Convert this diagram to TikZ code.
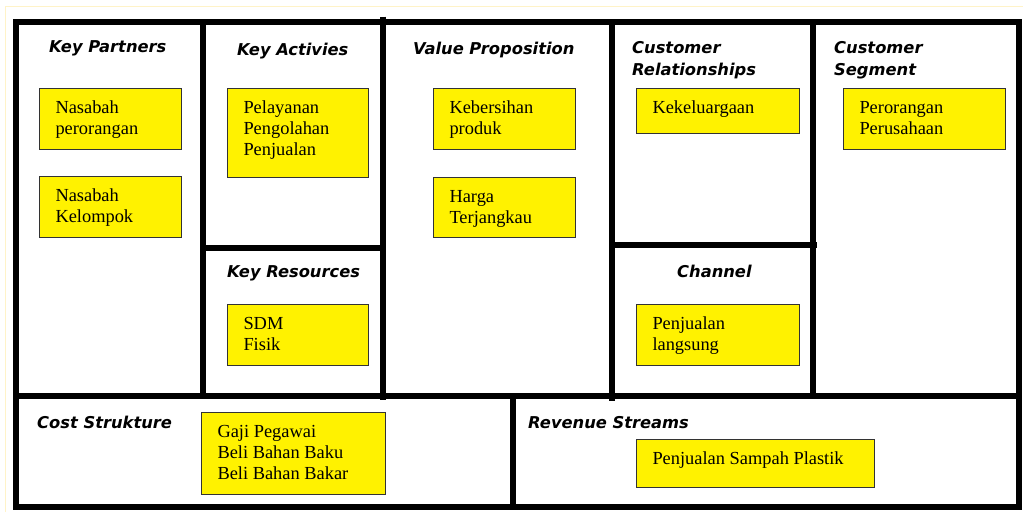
\documentclass[tikz,border=0pt]{standalone}
\usepackage{fontspec}
\setmainfont{Liberation Serif}
\newfontfamily\headfam{DejaVu Sans}
\definecolor{pageline}{HTML}{FFF3C8}
\definecolor{boxline}{HTML}{333333}
\newcommand\boxtext[3]{\parbox[c][#2pt][t]{#1pt}{\raggedright\leftskip=16pt\relax\rule{0pt}{25pt}#3}}
\tikzset{
  frameline/.style={line width=6pt, black, line cap=rect},
  ybox/.style={draw=boxline, fill=yellow, line width=1pt, inner sep=0pt, anchor=north west,
    font=\fontsize{18.4}{21}\selectfont},
  head/.style={inner sep=0pt, anchor=north west, align=left,
    font=\headfam\bfseries\itshape\fontsize{16.3}{22}\selectfont}
}
\begin{document}
\begin{tikzpicture}[x=1pt,y=-1pt]
\useasboundingbox (0,0) rectangle (1023,512);
% faint page edge
\draw[pageline, line width=1pt] (5,512) -- (5,6) -- (1023,6);
% canvas frame
\draw[frameline] (16,21.5) rectangle (1018.5,506.5);
\draw[frameline] (202.5,21.5) -- (202.5,395.5);
\draw[frameline, line cap=butt] (383,16.5) -- (383,400);
\draw[frameline, line cap=butt] (611.5,21.5) -- (611.5,401);
\draw[frameline] (812.5,21.5) -- (812.5,395.5);
\draw[frameline] (202.5,248) -- (383,248);
\draw[frameline, line cap=butt] (611.5,244.5) -- (817,244.5);
\draw[frameline] (16,395.5) -- (1018.5,395.5);
\draw[frameline] (512.5,395.5) -- (512.5,506.5);
% headers
\node[head] (hkp) at (49,39) {\rule{0pt}{13pt}Key Partners};
\node[head] (hka) at (237,42) {\rule{0pt}{13pt}Key Activies};
\node[head] (hvp) at (413,41) {\rule{0pt}{13pt}Value Proposition};
\node[head] (hcr) at (632,40) {\rule{0pt}{13pt}Customer\\Relationships};
\node[head] (hcs) at (834,40) {\rule{0pt}{13pt}Customer\\Segment};
\node[head] (hkr) at (227,264) {\rule{0pt}{13pt}Key Resources};
\node[head] (hch) at (677,264) {\rule{0pt}{13pt}Channel};
\node[head] (hcost) at (37,415) {\rule{0pt}{13pt}Cost Strukture};
\node[head] (hrev) at (528,415) {\rule{0pt}{13pt}Revenue Streams};
% yellow boxes
\node[ybox] (b1) at (39,88) {\boxtext{142}{61}{Nasabah\\perorangan}};
\node[ybox] (b2) at (39,176) {\boxtext{142}{61}{Nasabah\\Kelompok}};
\node[ybox] (b3) at (227,88) {\boxtext{141}{89}{Pelayanan\\Pengolahan\\Penjualan}};
\node[ybox] (b4) at (227,304) {\boxtext{141}{61}{SDM\\Fisik}};
\node[ybox] (b5) at (433,88) {\boxtext{142}{61}{Kebersihan\\produk}};
\node[ybox] (b6) at (433,177) {\boxtext{142}{60}{Harga\\Terjangkau}};
\node[ybox] (b7) at (636,88) {\boxtext{163}{45}{Kekeluargaan}};
\node[ybox] (b8) at (636,304) {\boxtext{163}{61}{Penjualan\\langsung}};
\node[ybox] (b9) at (843,88) {\boxtext{162}{61}{Perorangan\\Perusahaan}};
\node[ybox] (b10) at (201,412) {\boxtext{184}{82}{Gaji Pegawai\\Beli Bahan Baku\\Beli Bahan Bakar}};
\node[ybox] (b11) at (636,439) {\boxtext{238}{48}{Penjualan Sampah Plastik}};
\end{tikzpicture}
\end{document}
